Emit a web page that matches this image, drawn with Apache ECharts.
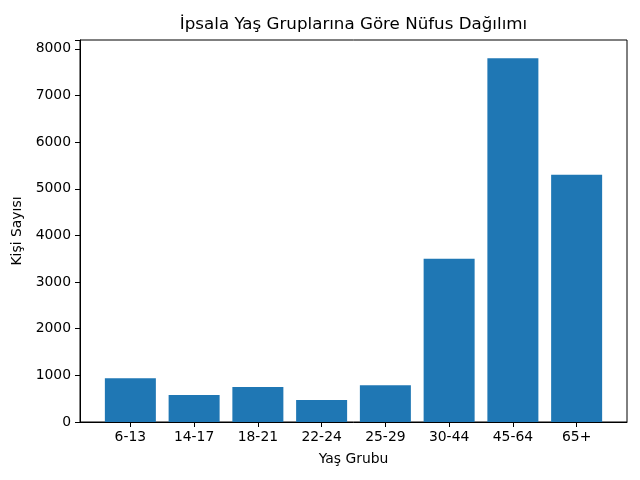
<!DOCTYPE html>
<html>
<head>
<meta charset="utf-8">
<script src="https://cdn.jsdelivr.net/npm/echarts@6/dist/echarts.min.js"></script>
<style>html,body{margin:0;padding:0;background:#fff}#c{width:640px;height:480px}</style>
</head>
<body>
<div id="c"></div>
<script>
const categories = ["6-13", "14-17", "18-21", "22-24", "25-29", "30-44", "45-64", "65+"];
const values = [940, 580, 750, 470, 790, 3500, 7800, 5300];
const yTicks = [0, 1000, 2000, 3000, 4000, 5000, 6000, 7000, 8000];

const chart = echarts.init(document.getElementById('c'), null, {renderer: 'canvas'});
const font = 'DejaVu Sans';
const gridL = 80, gridR = 13, gridT = 40, gridB = 58;
const gridW = 640 - gridL - gridR;
const xMin = -0.79, xMax = categories.length - 1 + 0.79;
const barW = gridW * 0.8 / (xMax - xMin);
const idx = categories.map((_, i) => i);

chart.setOption({
  animation: false,
  backgroundColor: '#fff',
  grid: {left: gridL, right: gridR, top: gridT, bottom: gridB, show: true, borderColor: '#000', borderWidth: 1, backgroundColor: 'transparent'},
  graphic: [{
    type: 'text', x: gridL + gridW / 2, y: 25,
    style: {text: 'İpsala Yaş Gruplarına Göre Nüfus Dağılımı', font: '16.7px "DejaVu Sans"', fill: '#000', textAlign: 'center', textVerticalAlign: 'middle'}
  }],
  xAxis: {
    type: 'value', min: xMin, max: xMax,
    name: 'Yaş Grubu', nameLocation: 'middle', nameGap: 30,
    nameTextStyle: {fontFamily: font, fontSize: 13.9, color: '#000'},
    splitLine: {show: false},
    axisLine: {show: true, onZero: false, lineStyle: {color: '#000', width: 1}},
    axisTick: {show: true, length: 5, lineStyle: {color: '#000'}, customValues: idx},
    axisLabel: {fontFamily: font, fontSize: 13.9, color: '#000', margin: 8, customValues: idx, formatter: v => categories[Math.round(v)]}
  },
  yAxis: {
    type: 'value', min: 0, max: 8190, interval: 1000,
    name: 'Kişi Sayısı', nameLocation: 'middle', nameGap: 54,
    nameTextStyle: {fontFamily: font, fontSize: 13.9, color: '#000'},
    splitLine: {show: false},
    axisLine: {show: true, onZero: false, lineStyle: {color: '#000', width: 1}},
    axisTick: {show: true, length: 5, lineStyle: {color: '#000'}},
    axisLabel: {fontFamily: font, fontSize: 13.9, color: '#000', margin: 9,
      formatter: v => yTicks.includes(v) ? String(v) : ''}
  },
  series: [{
    type: 'bar',
    barWidth: barW,
    itemStyle: {color: '#1f77b4'},
    data: values.map((v, i) => [i, v])
  }]
});
</script>
</body>
</html>
